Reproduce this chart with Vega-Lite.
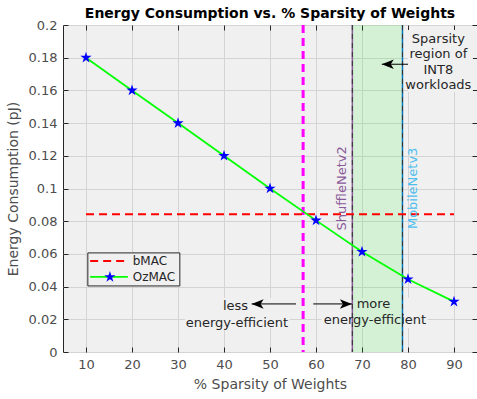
{
  "$schema": "https://vega.github.io/schema/vega-lite/v6.json",
  "width": 414,
  "height": 327,
  "autosize": {"type": "none"},
  "padding": {"left": 63, "top": 25, "right": 0, "bottom": 47},
  "background": "white",
  "title": {"text": "Energy Consumption vs. % Sparsity of Weights", "font": "DejaVu Sans", "fontSize": 14, "fontWeight": "bold", "color": "#000000", "anchor": "middle", "offset": -2},
  "config": {
    "font": "DejaVu Sans",
    "view": {"fill": "#f0f0f0", "stroke": "#262626", "strokeWidth": 1},
    "axis": {"domain": false, "grid": true, "gridColor": "#d4d4d4", "gridOpacity": 1, "tickColor": "#262626", "tickSize": -5, "labelFont": "DejaVu Sans", "labelFontSize": 13, "labelColor": "#4d4d4d", "titleFont": "DejaVu Sans", "titleFontSize": 14, "titleColor": "#4d4d4d", "titleFontWeight": "normal"}
  },
  "resolve": {"axis": {"x": "independent", "y": "independent"}},
  "layer": [
    {
      "data": {"values": [{"x1": 31.5, "x2": 54.3, "y1": 0.0147, "y2": 0.033}, {"x1": 61.2, "x2": 84.3, "y1": 0.0147, "y2": 0.033}, {"x1": 80.0, "x2": 94.1, "y1": 0.159, "y2": 0.197}]},
      "mark": {"type": "rect", "color": "#f0f0f0"},
      "encoding": {
        "x": {"field": "x1", "type": "quantitative", "scale": {"domain": [5, 95], "nice": false, "zero": false}, "axis": {"orient": "bottom", "values": [10, 20, 30, 40, 50, 60, 70, 80, 90], "title": "% Sparsity of Weights", "labelPadding": 11, "titlePadding": 6}},
        "x2": {"field": "x2"},
        "y": {"field": "y1", "type": "quantitative", "scale": {"domain": [0, 0.2], "nice": false, "zero": false}, "axis": {"orient": "left", "values": [0, 0.02, 0.04, 0.06, 0.08, 0.1, 0.12, 0.14, 0.16, 0.18, 0.2], "format": "~g", "title": "Energy Consumption (pJ)", "labelPadding": 11, "titlePadding": 8}},
        "y2": {"field": "y2"}
      }
    },
    {
      "data": {"values": [{"start": 67.9, "end": 78.8}]},
      "mark": {"type": "rect", "color": "#00ff00", "opacity": 0.11},
      "encoding": {
        "x": {"field": "start", "type": "quantitative", "axis": {"orient": "top", "labels": false, "grid": false, "title": null, "values": [10, 20, 30, 40, 50, 60, 70, 80, 90]}},
        "x2": {"field": "end"}
      }
    },
    {
      "data": {"values": [{"x": 67.9, "c": "#8a5a98"}, {"x": 78.8, "c": "#0072bd"}]},
      "mark": {"type": "rule", "strokeWidth": 1.5},
      "encoding": {
        "x": {"field": "x", "type": "quantitative", "axis": null},
        "color": {"field": "c", "type": "nominal", "scale": null}
      }
    },
    {
      "data": {"values": [{"x": 67.9}, {"x": 78.8}]},
      "mark": {"type": "rule", "strokeWidth": 1, "color": "#333333", "strokeDash": [5, 4]},
      "encoding": {
        "x": {"field": "x", "type": "quantitative", "axis": null}
      }
    },
    {
      "data": {"values": [{"x": 57.2}]},
      "mark": {"type": "rule", "strokeWidth": 3, "color": "#ff00ff", "strokeDash": [8, 5]},
      "encoding": {
        "x": {"field": "x", "type": "quantitative", "axis": null}
      }
    },
    {
      "data": {"values": [{"x1": 10, "x2": 90, "y": 0.0842}]},
      "mark": {"type": "rule", "strokeWidth": 2, "color": "#ff0000", "strokeDash": [8, 5]},
      "encoding": {
        "x": {"field": "x1", "type": "quantitative", "axis": null},
        "x2": {"field": "x2"},
        "y": {"field": "y", "type": "quantitative", "axis": {"orient": "right", "labels": false, "grid": false, "title": null, "values": [0, 0.02, 0.04, 0.06, 0.08, 0.1, 0.12, 0.14, 0.16, 0.18, 0.2]}}
      }
    },
    {
      "data": {"values": [
        {"sparsity": 10, "energy": 0.18},
        {"sparsity": 20, "energy": 0.16},
        {"sparsity": 30, "energy": 0.14},
        {"sparsity": 40, "energy": 0.12},
        {"sparsity": 50, "energy": 0.10},
        {"sparsity": 60, "energy": 0.0805},
        {"sparsity": 70, "energy": 0.0613},
        {"sparsity": 80, "energy": 0.0445},
        {"sparsity": 90, "energy": 0.0308}
      ]},
      "layer": [
        {"mark": {"type": "line", "color": "#00ff00", "strokeWidth": 1.8}, "encoding": {"x": {"field": "sparsity", "type": "quantitative", "axis": null}, "y": {"field": "energy", "type": "quantitative", "axis": null}}},
        {"mark": {"type": "point", "shape": "M0,-1L0.225,-0.309L0.951,-0.309L0.363,0.118L0.588,0.809L0,0.382L-0.588,0.809L-0.363,0.118L-0.951,-0.309L-0.225,-0.309Z", "size": 36, "filled": false, "color": "#0000ff", "strokeWidth": 1.8, "opacity": 1}, "encoding": {"x": {"field": "sparsity", "type": "quantitative", "axis": null}, "y": {"field": "energy", "type": "quantitative", "axis": null}}}
      ]
    },
    {
      "data": {"values": [{"x1": 55.65, "x2": 46.0, "y": 0.0294}, {"x1": 59.4, "x2": 67.8, "y": 0.0294}, {"x1": 80.0, "x2": 74.3, "y": 0.176}]},
      "mark": {"type": "rule", "strokeWidth": 1, "color": "#000000"},
      "encoding": {
        "x": {"field": "x1", "type": "quantitative", "axis": null},
        "x2": {"field": "x2"},
        "y": {"field": "y", "type": "quantitative", "axis": null}
      }
    },
    {
      "data": {"values": [{"x": 46.0, "y": 0.0294}, {"x": 74.3, "y": 0.176}]},
      "mark": {"type": "point", "shape": "M0,0L2,-0.8L1.5,0L2,0.8Z", "size": 144, "filled": true, "color": "#000000", "opacity": 1},
      "encoding": {
        "x": {"field": "x", "type": "quantitative", "axis": null},
        "y": {"field": "y", "type": "quantitative", "axis": null}
      }
    },
    {
      "data": {"values": [{"x": 67.8, "y": 0.0294}]},
      "mark": {"type": "point", "shape": "M0,0L-2,-0.8L-1.5,0L-2,0.8Z", "size": 144, "filled": true, "color": "#000000", "opacity": 1},
      "encoding": {
        "x": {"field": "x", "type": "quantitative", "axis": null},
        "y": {"field": "y", "type": "quantitative", "axis": null}
      }
    },
    {
      "data": {"values": [
        {"x": 86.6, "y": 0.1914, "t": "Sparsity"},
        {"x": 86.6, "y": 0.1823, "t": "region of"},
        {"x": 86.6, "y": 0.1727, "t": "INT8"},
        {"x": 86.6, "y": 0.1633, "t": "workloads"},
        {"x": 42.5, "y": 0.0281, "t": "less"},
        {"x": 42.8, "y": 0.0179, "t": "energy-efficient"},
        {"x": 72.5, "y": 0.0294, "t": "more"},
        {"x": 72.8, "y": 0.0196, "t": "energy-efficient"}
      ]},
      "mark": {"type": "text", "fontSize": 13, "color": "#262626", "align": "center", "baseline": "middle", "font": "DejaVu Sans"},
      "encoding": {
        "x": {"field": "x", "type": "quantitative", "axis": null},
        "y": {"field": "y", "type": "quantitative", "axis": null},
        "text": {"field": "t"}
      }
    },
    {
      "data": {"values": [
        {"x": 65.6, "y": 0.1001, "t": "ShuffleNetv2", "c": "#8a5a98"},
        {"x": 81.0, "y": 0.1001, "t": "MobileNetv3", "c": "#4dbeee"}
      ]},
      "mark": {"type": "text", "fontSize": 13, "angle": 270, "align": "center", "baseline": "middle", "font": "DejaVu Sans"},
      "encoding": {
        "x": {"field": "x", "type": "quantitative", "axis": null},
        "y": {"field": "y", "type": "quantitative", "axis": null},
        "text": {"field": "t"},
        "color": {"field": "c", "type": "nominal", "scale": null}
      }
    },
    {
      "data": {"values": [{"x1": 10.4, "x2": 30.4, "y1": 0.0404, "y2": 0.0606}]},
      "mark": {"type": "rect", "fill": "#f0f0f0", "stroke": "#262626", "strokeWidth": 1},
      "encoding": {
        "x": {"field": "x1", "type": "quantitative", "axis": null},
        "x2": {"field": "x2"},
        "y": {"field": "y1", "type": "quantitative", "axis": null},
        "y2": {"field": "y2"}
      }
    },
    {
      "data": {"values": [{"x1": 10.9, "x2": 19.1, "y": 0.0557}]},
      "mark": {"type": "rule", "strokeWidth": 2, "color": "#ff0000", "strokeDash": [8, 5]},
      "encoding": {
        "x": {"field": "x1", "type": "quantitative", "axis": null},
        "x2": {"field": "x2"},
        "y": {"field": "y", "type": "quantitative", "axis": null}
      }
    },
    {
      "data": {"values": [{"x1": 10.9, "x2": 19.1, "y": 0.0459}]},
      "mark": {"type": "rule", "strokeWidth": 1.8, "color": "#00ff00"},
      "encoding": {
        "x": {"field": "x1", "type": "quantitative", "axis": null},
        "x2": {"field": "x2"},
        "y": {"field": "y", "type": "quantitative", "axis": null}
      }
    },
    {
      "data": {"values": [{"x": 15.2, "y": 0.0459}]},
      "mark": {"type": "point", "shape": "M0,-1L0.225,-0.309L0.951,-0.309L0.363,0.118L0.588,0.809L0,0.382L-0.588,0.809L-0.363,0.118L-0.951,-0.309L-0.225,-0.309Z", "size": 36, "filled": false, "color": "#0000ff", "strokeWidth": 1.8, "opacity": 1},
      "encoding": {
        "x": {"field": "x", "type": "quantitative", "axis": null},
        "y": {"field": "y", "type": "quantitative", "axis": null}
      }
    },
    {
      "data": {"values": [{"x": 20.15, "y": 0.0557, "t": "bMAC"}, {"x": 20.15, "y": 0.0459, "t": "OzMAC"}]},
      "mark": {"type": "text", "fontSize": 12, "color": "#262626", "align": "left", "baseline": "middle", "font": "DejaVu Sans"},
      "encoding": {
        "x": {"field": "x", "type": "quantitative", "axis": null},
        "y": {"field": "y", "type": "quantitative", "axis": null},
        "text": {"field": "t"}
      }
    }
  ]
}
